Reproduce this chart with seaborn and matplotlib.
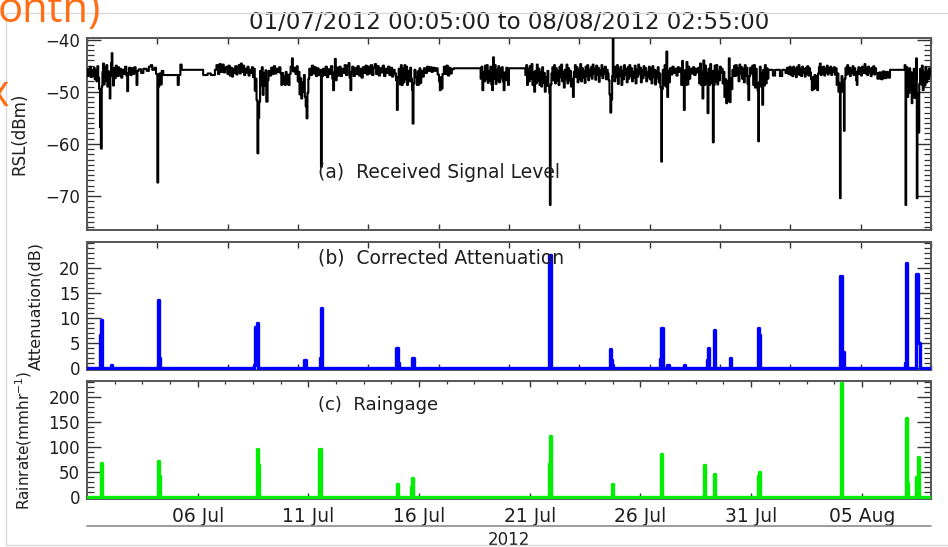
import numpy as np
import pandas as pd
import matplotlib
matplotlib.use("Agg")
import matplotlib.pyplot as plt
from matplotlib.ticker import MultipleLocator, FixedLocator, NullFormatter
from matplotlib.lines import Line2D
import seaborn as sns

# ---------------- data ----------------
title_text = "01/07/2012 00:05:00 to 08/08/2012 02:55:00"
start_time = "2012-07-01 00:05"
end_time = "2012-08-08 02:55"
panel_labels = ["(a)  Received Signal Level", "(b)  Corrected Attenuation", "(c)  Raingage"]
y_labels = ["RSL(dBm)", "Attenuation(dB)", "Rainrate(mmhr$^{-1}$)"]
date_ticks = ["2012-07-06", "2012-07-11", "2012-07-16", "2012-07-21",
              "2012-07-26", "2012-07-31", "2012-08-05"]
date_tick_labels = ["06 Jul", "11 Jul", "16 Jul", "21 Jul", "26 Jul", "31 Jul", "05 Aug"]
year_label = "2012"
rsl_ticks = [-70, -60, -50, -40]
atten_ticks = [0, 5, 10, 15, 20]
rain_ticks = [0, 50, 100, 150, 200]

# (days since 01 Jul 2012 00:00, RSL dBm)
rsl_readings = [
    (0.00,-45.8),(0.03,-47.0),(0.06,-45.6),(0.10,-46.8),(0.14,-45.2),(0.18,-47.2),(0.22,-45.9),(0.27,-46.9),
    (0.31,-45.4),(0.35,-47.6),(0.39,-45.8),(0.43,-48.0),(0.47,-45.1),(0.51,-47.3),(0.55,-49.5),(0.59,-56.8),
    (0.63,-60.9),(0.67,-49.0),(0.70,-46.2),(0.73,-44.6),(0.77,-48.6),(0.80,-45.3),(0.84,-47.9),(0.88,-44.9),
    (0.92,-49.0),(0.96,-46.1),(1.00,-48.4),(1.03,-51.3),(1.06,-47.0),(1.09,-44.5),(1.12,-42.6),(1.15,-46.3),
    (1.18,-48.8),(1.22,-45.5),(1.26,-47.4),(1.30,-45.0),(1.35,-47.0),(1.40,-45.3),(1.45,-46.9),(1.50,-45.6),
    (1.55,-47.3),(1.60,-45.8),(1.66,-46.6),(1.72,-45.2),(1.78,-46.9),(1.82,-49.9),(1.86,-46.4),(1.90,-45.4),
    (1.96,-46.8),(2.02,-45.5),(2.08,-46.6),(2.14,-45.3),(2.20,-46.2),(2.24,-48.7),(2.28,-46.0),(2.34,-45.7),
    (2.45,-46.4),(2.55,-45.6),(2.70,-46.0),(2.80,-45.2),(2.88,-44.9),(2.95,-45.8),(3.05,-45.4),(3.12,-46.6),
    (3.18,-67.4),(3.22,-49.0),(3.27,-46.5),(3.33,-48.6),(3.38,-46.0),(3.45,-46.8),(4.10,-48.7),(4.15,-46.8),
    (4.22,-44.8),(4.28,-45.8),(5.25,-46.8),(5.45,-46.5),(5.60,-46.8),(5.78,-45.8),(5.85,-44.9),(5.92,-46.6),
    (5.98,-44.7),(6.04,-46.2),(6.10,-44.8),(6.18,-46.3),(6.25,-45.4),
    (6.30,-45.2),(6.35,-46.6),(6.40,-45.0),(6.45,-46.9),(6.50,-45.4),(6.55,-47.1),(6.60,-45.6),(6.65,-46.4),
    (6.70,-45.1),(6.75,-46.7),(6.80,-45.5),(6.85,-44.9),(6.90,-46.5),(6.95,-44.6),(7.00,-46.2),(7.05,-45.0),
    (7.10,-46.8),(7.15,-45.6),(7.20,-46.3),(7.25,-45.2),(7.30,-46.9),(7.35,-45.8),(7.40,-46.4),(7.45,-45.3),
    (7.50,-47.2),(7.54,-45.6),(7.58,-49.8),(7.62,-47.5),(7.66,-51.6),(7.70,-61.8),(7.74,-55.0),(7.78,-51.9),
    (7.82,-46.0),(7.86,-48.8),(7.90,-45.3),(7.94,-50.6),(7.98,-46.5),(8.02,-48.9),(8.06,-45.9),(8.10,-51.9),
    (8.16,-47.8),(8.20,-46.0),(8.26,-46.9),(8.32,-45.4),(8.38,-46.6),(8.44,-45.1),(8.50,-46.5),(8.56,-45.6),
    (8.62,-46.2),(8.68,-45.3),(8.74,-46.5),(8.78,-48.7),(8.82,-46.4),(8.86,-48.5),(8.90,-47.0),(8.94,-48.7),
    (8.98,-46.2),(9.02,-48.4),(9.06,-46.8),(9.10,-48.7),(9.15,-46.6),(9.20,-45.2),(9.26,-43.6),(9.30,-46.1),
    (9.36,-45.4),(9.42,-46.6),(9.48,-45.1),(9.52,-48.0),(9.56,-46.2),(9.60,-50.5),(9.64,-47.4),(9.68,-51.3),
    (9.72,-48.2),(9.76,-50.0),(9.80,-46.8),(9.84,-51.0),(9.88,-52.8),(9.92,-55.1),(9.96,-50.2),(10.00,-47.5),
    (10.04,-45.6),(10.10,-46.8),(10.16,-45.0),(10.22,-46.5),(10.28,-45.3),(10.34,-47.0),(10.40,-45.5),
    (10.46,-46.8),(10.52,-45.8),(10.57,-64.4),(10.61,-47.0),(10.66,-45.6),(10.72,-46.8),(10.78,-45.2),
    (10.84,-47.2),(10.90,-45.7),(10.96,-46.6),(11.02,-45.1),(11.08,-47.5),(11.12,-49.7),(11.16,-46.3),
    (11.20,-43.7),(11.24,-47.8),(11.28,-45.4),(11.34,-46.9),(11.40,-45.2),(11.46,-47.0),(11.52,-45.6),
    (11.58,-46.4),(11.64,-44.9),(11.70,-46.8),(11.76,-45.0),(11.82,-44.5),(11.86,-47.3),(11.90,-49.7),
    (11.94,-46.2),(11.98,-45.2),(12.04,-47.0),(12.10,-45.5),(12.16,-46.6),(12.22,-45.1),(12.28,-46.9),
    (12.34,-45.6),(12.40,-47.3),(12.46,-45.3),(12.52,-46.4),(12.58,-45.0),(12.64,-46.7),
    (12.70,-45.2),(12.76,-46.5),(12.82,-44.9),(12.88,-46.8),(12.94,-45.4),(13.00,-44.7),(13.06,-46.6),
    (13.12,-45.1),(13.18,-46.9),(13.24,-45.5),(13.30,-46.3),(13.36,-45.0),(13.42,-47.0),(13.48,-45.6),
    (13.54,-46.4),(13.60,-45.2),(13.66,-46.8),(13.72,-45.4),(13.78,-47.1),(13.84,-45.8),(13.90,-46.5),
    (13.96,-47.8),(14.00,-53.5),(14.04,-47.2),(14.08,-45.6),(14.14,-48.6),(14.18,-44.9),(14.22,-48.7),
    (14.26,-45.6),(14.30,-48.2),(14.34,-44.9),(14.38,-47.6),(14.42,-45.2),(14.46,-48.7),(14.50,-46.0),
    (14.55,-48.0),(14.60,-45.4),(14.64,-47.5),(14.68,-49.6),(14.71,-56.1),(14.75,-48.4),(14.79,-45.8),
    (14.84,-47.2),(14.90,-48.7),(14.94,-46.1),(14.98,-48.6),(15.02,-45.5),(15.06,-48.3),(15.10,-46.0),
    (15.16,-47.1),(15.22,-45.5),(15.30,-46.4),(15.36,-45.2),(15.42,-46.0),(15.48,-45.3),(15.56,-46.2),
    (15.62,-45.4),(15.70,-46.0),(15.76,-45.5),(15.84,-46.7),(15.90,-48.0),(15.94,-49.7),(15.98,-47.2),
    (16.02,-49.4),(16.06,-46.6),(16.12,-45.2),(16.18,-46.6),(16.24,-45.0),(16.30,-46.9),(16.36,-45.4),
    (16.42,-46.5),(16.48,-45.7),(16.56,-45.5),(17.78,-47.5),(17.82,-45.2),(17.86,-49.7),(17.90,-46.2),
    (17.94,-48.0),(17.98,-45.0),(18.02,-47.6),(18.06,-44.9),(18.10,-48.3),(18.14,-46.0),(18.18,-47.9),
    (18.22,-45.2),(18.26,-48.6),(18.30,-49.7),(18.34,-43.4),(18.38,-47.5),(18.42,-44.9),(18.46,-48.5),
    (18.50,-45.8),(18.54,-47.8),(18.58,-45.1),(18.62,-48.2),(18.66,-45.6),(18.70,-47.4),(18.74,-45.3),
    (18.78,-48.0),(18.82,-49.7),(18.86,-46.3),(18.90,-47.8),(18.94,-45.4),(18.98,-47.6),(19.02,-48.7),
    (19.06,-45.5),
    (19.80,-46.8),(19.84,-44.9),(19.88,-48.7),(19.92,-45.6),(19.96,-48.0),(20.00,-45.1),(20.04,-47.5),
    (20.08,-44.7),(20.12,-48.7),(20.16,-46.3),(20.20,-50.0),(20.24,-46.0),(20.28,-48.4),(20.32,-44.8),
    (20.36,-47.9),(20.40,-45.6),(20.44,-48.7),(20.48,-46.2),(20.52,-49.0),(20.56,-45.3),(20.60,-48.3),
    (20.64,-46.4),(20.68,-50.0),(20.72,-47.2),(20.76,-48.8),(20.80,-46.0),(20.84,-48.9),(20.88,-50.2),
    (20.91,-71.7),(20.94,-48.6),(20.98,-46.5),(21.02,-45.3),(21.06,-47.8),(21.10,-44.9),(21.14,-48.4),
    (21.18,-45.5),(21.22,-47.9),(21.26,-46.1),(21.30,-48.7),(21.34,-45.2),(21.38,-47.2),(21.42,-44.8),
    (21.46,-48.0),(21.50,-46.2),(21.54,-49.2),(21.58,-45.8),(21.62,-47.6),(21.66,-44.8),(21.70,-48.4),
    (21.74,-45.5),(21.78,-47.8),(21.82,-46.0),(21.86,-49.0),(21.90,-47.5),(21.95,-51.0),(21.99,-46.2),
    (22.04,-44.9),(22.08,-47.2),(22.12,-45.3),(22.16,-48.2),(22.20,-45.8),(22.24,-47.6),(22.28,-44.7),
    (22.32,-48.0),(22.36,-45.5),(22.40,-47.3),(22.44,-46.0),(22.48,-48.3),(22.52,-45.2),(22.56,-47.0),
    (22.60,-44.9),(22.64,-47.8),(22.68,-45.8),(22.72,-46.9),(22.76,-45.3),(22.80,-47.5),(22.84,-44.8),
    (22.88,-46.5),(22.92,-45.6),(22.96,-47.7),(23.00,-45.0),(23.04,-46.8),(23.08,-45.4),(23.12,-48.1),
    (23.16,-45.9),(23.20,-46.8),(23.24,-44.9),(23.28,-47.4),(23.32,-45.6),(23.36,-46.6),(23.40,-45.2),
    (23.44,-47.6),(23.48,-45.8),(23.52,-46.5),(23.56,-47.8),(23.60,-50.5),(23.64,-54.0),(23.68,-51.5),
    (23.72,-47.0),(23.75,-39.0),(23.78,-46.5),(23.82,-48.0),(23.86,-45.2),(23.90,-47.2),(23.94,-44.9),
    (23.98,-48.5),(24.02,-45.6),(24.06,-47.0),(24.10,-45.2),(24.14,-48.7),(24.18,-46.0),(24.22,-47.6),
    (24.26,-44.9),(24.30,-46.8),(24.34,-45.7),(24.38,-48.2),(24.42,-45.3),(24.46,-47.5),(24.50,-44.9),
    (24.54,-46.9),(24.58,-45.5),(24.62,-48.0),(24.66,-46.2),(24.70,-47.3),(24.74,-45.0),(24.78,-48.4),
    (24.82,-45.8),(24.86,-47.1),(24.90,-44.8),(24.94,-46.6),(24.98,-45.4),(25.02,-48.2),(25.06,-45.9),
    (25.10,-47.4),(25.14,-45.1),(25.18,-46.8),(25.22,-45.5),(25.26,-48.0),(25.30,-46.3),(25.34,-47.2),
    (25.38,-45.2),(25.42,-47.6),(25.46,-45.6),(25.50,-48.4),(25.54,-45.1),(25.58,-47.2),(25.62,-45.8),
    (25.66,-48.6),(25.70,-46.0),(25.74,-47.4),(25.78,-45.3),(25.82,-48.2),(25.86,-46.5),(25.90,-49.2),
    (25.94,-63.4),(25.97,-49.5),(26.01,-45.8),(26.05,-48.6),(26.09,-44.9),(26.13,-49.0),(26.17,-42.3),
    (26.21,-51.0),(26.25,-46.0),(26.29,-48.2),(26.33,-45.5),(26.38,-46.7),(26.44,-45.2),(26.50,-46.4),
    (26.56,-45.6),(26.62,-46.9),(26.68,-45.3),(26.74,-46.2),(26.80,-45.5),(26.84,-48.7),(26.88,-44.1),
    (26.92,-48.4),(26.96,-53.5),(27.00,-45.9),(27.04,-48.7),(27.08,-44.3),(27.12,-48.6),(27.16,-45.2),
    (27.20,-47.5),(27.25,-45.6),(27.31,-46.5),(27.37,-45.3),(27.43,-46.8),(27.49,-45.6),(27.55,-46.3),
    (27.61,-45.4),(27.65,-48.4),(27.69,-44.6),(27.73,-48.7),(27.77,-46.2),(27.80,-51.3),(27.84,-44.0),
    (27.88,-48.7),(27.92,-45.0),(27.96,-48.5),(28.00,-46.4),(28.03,-54.1),(28.07,-45.6),(28.11,-48.7),
    (28.15,-44.7),(28.19,-48.3),(28.23,-46.0),(28.27,-59.7),(28.31,-48.7),(28.35,-45.0),(28.39,-48.1),
    (28.43,-44.9),(28.47,-48.6),(28.51,-46.0),(28.55,-47.8),(28.59,-45.2),(28.63,-46.4),(28.67,-45.6),
    (28.71,-48.4),(28.75,-46.2),(28.79,-51.0),(28.83,-47.6),(28.87,-52.2),(28.91,-48.0),(28.95,-51.8),
    (28.99,-43.6),(29.03,-52.0),(29.07,-47.4),(29.11,-49.5),(29.15,-45.8),(29.19,-46.9),(29.23,-45.0),
    (29.27,-47.0),(29.31,-44.9),(29.35,-46.8),(29.39,-45.5),(29.43,-48.0),(29.47,-44.8),(29.51,-46.6),
    (29.55,-45.3),(29.59,-47.5),(29.63,-45.6),(29.67,-48.2),(29.71,-44.9),(29.75,-46.9),(29.79,-45.4),
    (29.83,-48.5),(29.87,-51.6),(29.91,-47.0),(29.95,-45.4),(30.00,-46.5),(30.05,-45.0),(30.09,-48.7),
    (30.13,-44.9),(30.17,-49.2),(30.21,-45.6),(30.25,-48.4),(30.29,-49.8),(30.32,-59.5),(30.35,-48.2),
    (30.39,-45.2),(30.43,-49.0),(30.47,-46.4),(30.50,-52.5),(30.54,-45.8),(30.58,-48.8),(30.62,-44.9),
    (30.66,-48.4),(30.70,-45.5),(30.74,-47.5),(30.78,-45.8),(30.98,-46.9),(31.08,-45.8),(31.30,-47.0),
    (31.40,-45.8),(31.55,-46.4),(31.62,-45.4),(31.68,-46.6),(31.74,-45.2),
    (31.78,-46.8),(31.82,-45.5),(31.86,-47.0),(31.90,-45.2),(31.94,-46.6),(31.98,-45.6),(32.02,-47.2),
    (32.06,-45.3),(32.10,-46.5),(32.14,-44.9),(32.18,-46.8),(32.22,-45.6),(32.26,-47.0),(32.30,-45.2),
    (32.34,-46.4),(32.38,-45.7),(32.42,-47.1),(32.46,-45.4),(32.50,-46.6),(32.54,-45.1),(32.58,-46.9),
    (32.62,-45.5),(32.66,-46.3),(32.70,-47.6),(32.74,-49.7),(32.78,-47.2),(32.82,-49.5),(32.86,-46.8),
    (32.90,-49.2),(32.94,-47.0),(32.98,-49.7),(33.02,-46.5),(33.06,-45.3),(33.10,-44.6),(33.14,-46.8),
    (33.18,-45.4),(33.22,-46.5),(33.26,-45.2),(33.30,-46.9),(33.34,-45.6),(33.38,-46.3),(33.42,-45.0),
    (33.46,-46.7),(33.50,-45.5),(33.54,-46.4),(33.58,-45.2),(33.62,-46.8),(33.66,-45.6),(33.70,-46.2),
    (33.74,-45.3),(33.78,-46.7),(33.82,-45.5),(33.86,-48.7),(33.90,-46.5),(33.94,-50.0),(33.97,-48.3),
    (34.01,-70.4),(34.04,-49.0),(34.08,-47.0),(34.12,-50.0),(34.16,-48.2),(34.19,-57.5),(34.22,-47.5),
    (34.26,-45.4),(34.30,-46.7),(34.34,-44.9),(34.38,-46.5),(34.42,-45.4),(34.46,-47.0),(34.50,-45.6),
    (34.54,-46.4),(34.58,-45.1),(34.62,-46.8),(34.66,-45.5),(34.70,-46.2),(34.74,-47.8),(34.77,-48.7),
    (34.80,-46.1),(34.84,-45.3),(34.88,-46.6),(34.92,-45.5),(34.96,-46.9),(35.00,-45.2),(35.04,-46.4),
    (35.08,-45.6),(35.12,-44.7),(35.16,-46.5),(35.20,-45.4),(35.24,-46.8),(35.28,-45.2),(35.32,-46.3),
    (35.36,-45.6),(35.40,-47.0),(35.44,-45.4),(35.48,-46.5),(35.52,-45.1),(35.56,-46.7),(35.60,-45.5),
    (35.64,-46.4),(35.70,-47.5),(35.78,-46.3),(35.86,-47.6),(35.94,-46.1),(36.02,-47.4),(36.10,-46.2),
    (36.18,-47.3),(36.27,-45.8),(36.93,-44.9),(36.97,-71.7),(37.00,-49.0),(37.03,-45.3),(37.06,-51.0),
    (37.09,-46.0),(37.12,-50.2),(37.15,-45.5),(37.18,-49.8),(37.21,-46.3),(37.25,-52.2),(37.28,-47.0),
    (37.31,-50.6),(37.34,-45.6),(37.38,-51.2),(37.42,-47.8),(37.45,-43.6),(37.48,-70.4),(37.51,-50.5),
    (37.55,-57.8),(37.59,-48.5),(37.63,-45.6),(37.67,-48.6),(37.71,-45.0),(37.75,-49.7),(37.79,-46.2),
    (37.83,-48.8),(37.87,-45.3),(37.91,-48.2),(37.95,-46.0),(37.99,-47.6),(38.03,-45.5),(38.07,-46.8),
    (38.12,-46.0),
]

# (days since 01 Jul 2012 00:00, corrected attenuation dB)
atten_readings = [
    (0.0035,0),(0.59,0),(0.61,6.5),(0.64,9.5),(0.70,0),(1.08,0.5),(1.14,0),(3.20,0),(3.22,13.5),
    (3.27,2),(3.31,0),(7.55,0.5),(7.60,8.2),(7.66,9.0),(7.72,0),(9.82,1.5),(9.90,0),(10.52,2),
    (10.55,12),(10.62,0),(13.98,4),(14.04,1),(14.08,0),(14.70,2),(14.76,0),(20.86,1),(20.89,22.6),
    (20.95,0),(23.62,3.8),(23.67,1.5),(23.72,0.5),(23.76,0),(25.90,1.8),(25.94,7.9),(26.00,1),
    (26.04,0),(26.22,0.6),(26.28,0),(26.96,0.6),(27.02,0),(28.00,1.5),(28.04,3.9),(28.10,0),
    (28.30,7.6),(28.36,0),(29.04,1.9),(29.10,0),(30.30,7.9),(30.36,6.6),(30.40,0),(34.02,18.4),
    (34.08,0),(34.12,3.2),(34.18,0),(36.94,1),(36.97,21.0),(37.02,0),(37.44,18.7),(37.52,5.0),
    (37.62,0),(38.12,0),
]

# (days since 01 Jul 2012 00:00, rain rate mm/hr)
rain_readings = [
    (0.0035,0),(0.60,0),(0.62,69),(0.66,55),(0.70,0),(3.19,0),(3.21,72),(3.25,42),(3.29,0),
    (7.68,95),(7.73,65),(7.77,0),(10.50,95),(10.55,0),(14.02,27),(14.07,0),(14.64,20),(14.68,39),
    (14.73,0),(20.87,67),(20.91,122),(20.96,0),(23.71,27),(23.76,0),(25.94,86),(25.99,0),(27.86,65),
    (27.91,0),(28.31,46),(28.36,0),(30.30,42),(30.34,50),(30.38,0),(34.07,228),(34.12,0),
    (36.97,157),(37.02,28),(37.08,0),(37.44,40),(37.55,79),(37.60,0),(38.12,0),
]

# ---------------- figure ----------------
sns.set_theme(style="ticks")
plt.rcParams["font.family"] = ["DejaVu Sans"]
TXT = "#1e1e1e"
FRAME = "#555555"
TICK = "#333333"

W, H = 948, 547
fig = plt.figure(figsize=(W / 100, H / 100), dpi=100)
fig.patch.set_facecolor("white")

def frac_axes(top, bottom, left=87, right=931):
    return fig.add_axes([left / W, (H - bottom) / H, (right - left) / W, (bottom - top) / H])

ax1 = frac_axes(38, 230)
ax2 = frac_axes(242, 370)
ax3 = frac_axes(381, 499)

base = pd.Timestamp("2012-07-01 00:00")
t0, t1 = pd.Timestamp(start_time), pd.Timestamp(end_time)

def to_frame(readings):
    df = pd.DataFrame(readings, columns=["day", "value"])
    df["time"] = base + pd.to_timedelta(df["day"], unit="D")
    return df

df_rsl, df_att, df_rain = to_frame(rsl_readings), to_frame(atten_readings), to_frame(rain_readings)

sns.lineplot(data=df_rsl, x="time", y="value", ax=ax1, color="black", lw=1.5,
             drawstyle="steps-post", estimator=None, sort=False, legend=False, zorder=3)
sns.lineplot(data=df_att, x="time", y="value", ax=ax2, color="#0000FF", lw=2.4,
             drawstyle="steps-post", estimator=None, sort=False, legend=False, zorder=3)
sns.lineplot(data=df_rain, x="time", y="value", ax=ax3, color="#00EE00", lw=2.4,
             drawstyle="steps-post", estimator=None, sort=False, legend=False, zorder=3)

ax1.set_ylim(-76.5, -39.7)
ax2.set_ylim(-0.45, 25.2)
ax3.set_ylim(-3.5, 231)

ax1.yaxis.set_major_locator(FixedLocator(rsl_ticks))
ax1.yaxis.set_minor_locator(MultipleLocator(1))
ax2.yaxis.set_major_locator(FixedLocator(atten_ticks))
ax2.yaxis.set_minor_locator(MultipleLocator(1))
ax3.yaxis.set_major_locator(FixedLocator(rain_ticks))
ax3.yaxis.set_minor_locator(MultipleLocator(10))

even_ticks = pd.date_range(t0, t1, periods=13)
for ax in (ax1, ax2, ax3):
    ax.set_xlim(t0, t1)
    ax.set_facecolor("white")
    for s in ax.spines.values():
        s.set_color(FRAME)
        s.set_linewidth(1.4)
    ax.tick_params(axis="y", which="major", direction="in", length=10, width=1.0,
                   left=True, right=True, labelsize=12, pad=5, colors=TICK, labelcolor=TXT)
    ax.tick_params(axis="y", which="minor", direction="in", length=5, width=0.9,
                   left=True, right=True, colors=TICK)
    ax.tick_params(axis="x", which="major", direction="in", length=4, width=1.0,
                   top=True, bottom=True, colors=TICK, labelcolor=TXT)
    ax.tick_params(axis="x", which="minor", direction="in", length=2.5, width=0.9,
                   top=True, bottom=True, colors=TICK)
    ax.set_xlabel("")

for ax in (ax1, ax2):
    ax.xaxis.set_major_locator(FixedLocator([float(v) for v in
                                             matplotlib.dates.date2num(even_ticks)]))
    ax.xaxis.set_major_formatter(NullFormatter())
    ax.xaxis.set_minor_locator(FixedLocator([]))

major_dates = pd.to_datetime(date_ticks)
ax3.set_xticks(major_dates)
ax3.set_xticklabels(date_tick_labels, fontsize=13.5, color=TXT)
minor_dates = pd.date_range(pd.Timestamp(date_ticks[0]) - pd.Timedelta(days=5),
                            t1, freq="30h")
ax3.xaxis.set_minor_locator(FixedLocator(matplotlib.dates.date2num(minor_dates)))
ax3.tick_params(axis="x", which="major", pad=6)

# y labels
for ax, lab, xc, fs in zip((ax1, ax2, ax3), y_labels, (-0.070, -0.052, -0.063), (12, 11.5, 11)):
    ax.set_ylabel(lab, fontsize=fs, color=TXT)
    ax.yaxis.set_label_coords(xc, 0.5)

# panel annotations
ax1.text(0.2737, 0.297, panel_labels[0], transform=ax1.transAxes, fontsize=13.5,
         color=TXT, ha="left", va="center")
ax2.text(0.2737, 0.875, panel_labels[1], transform=ax2.transAxes, fontsize=13.5,
         color=TXT, ha="left", va="center")
ax3.text(0.2737, 0.795, panel_labels[2], transform=ax3.transAxes, fontsize=13,
         color=TXT, ha="left", va="center")

ax1.text(0.5, 1.083, title_text, transform=ax1.transAxes, fontsize=16.5,
         color=TXT, ha="center", va="center")

# second-level date axis line and year label
ax3.add_line(Line2D([0, 1], [-0.229, -0.229], transform=ax3.transAxes, color="#8a8a8a",
                    lw=1.2, clip_on=False))
ax3.text(0.5, -0.345, year_label, transform=ax3.transAxes, fontsize=12, color=TXT,
         ha="center", va="center")

# slide frame remnants
fig.add_artist(Line2D([6 / W, 1], [1 - 13 / H, 1 - 13 / H], transform=fig.transFigure,
                      color="#dadada", lw=1))
fig.add_artist(Line2D([6 / W, 6 / W], [1 - 13 / H, 1 - 545 / H], transform=fig.transFigure,
                      color="#dadada", lw=1))
fig.add_artist(Line2D([6 / W, 1], [1 - 545 / H, 1 - 545 / H], transform=fig.transFigure,
                      color="#dadada", lw=1))
fig.text(-2 / W, 1 - 22 / H, "onth)", fontsize=30, color="#FF6E14",
         family=["Open Sans", "DejaVu Sans"], ha="left", va="baseline")
fig.text(-14 / W, 1 - 106 / H, "x", fontsize=31, color="#FF6E14",
         family=["Open Sans", "DejaVu Sans"], ha="left", va="baseline")

fig.savefig("out.png", dpi=100, facecolor="white")
